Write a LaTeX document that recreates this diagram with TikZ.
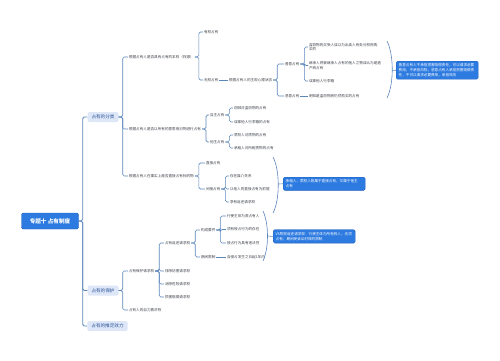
\documentclass[tikz,border=0pt]{standalone}
\usepackage{fontspec}
\setmainfont{Noto Sans CJK SC}
\definecolor{linec}{HTML}{5A86BA}
\definecolor{txtc}{HTML}{3C4048}
\definecolor{lonefill}{HTML}{DDE7F8}
\definecolor{lonetxt}{HTML}{2E5598}
\definecolor{rootc}{HTML}{2D7BE0}
\definecolor{rootb}{HTML}{1E5FBF}
\tikzset{
  conn/.style={draw=linec, line width=0.6pt, rounded corners=1.6pt},
  leaf/.style={anchor=west, inner sep=0.8pt, text=txtc, font=\fontsize{3.6}{4.6}\selectfont, align=left},
  lone/.style={fill=lonefill, rounded corners=1.5pt, text=lonetxt, font=\fontsize{4.6}{5.6}\selectfont, minimum height=10pt, inner xsep=4pt, inner ysep=0pt},
  rootbox/.style={fill=rootc, draw=rootb, line width=0.4pt, rounded corners=1.5pt, text=white, font=\fontsize{5.6}{6.6}\selectfont\bfseries, minimum width=57pt, minimum height=16pt},
  callout/.style={fill=rootc, draw=rootb, line width=0.4pt, rounded corners=1.5pt, text=white, font=\fontsize{3.6}{4.8}\selectfont, align=left, anchor=north west, inner sep=2.5pt, text width=77pt}
}
\begin{document}
\begin{tikzpicture}[x=1pt,y=-1pt]
\useasboundingbox (0,0) rectangle (500,360);
% root and level 1
\node[rootbox] (root) at (50,221) {专题十 占有制度};
\node[lone] (la) at (103,117) {占有的分类};
\node[lone] (lb) at (103,290.5) {占有的保护};
\node[lone] (lc) at (107.5,326) {占有的推定效力};
\draw[conn, line width=0.8pt] (root.east) -- ++(4,0) |- (la.west);
\draw[conn, line width=0.8pt] (root.east) -- ++(4,0) |- (lb.west);
\draw[conn, line width=0.8pt] (root.east) -- ++(4,0) |- (lc.west);

% ---- classification
\node[leaf] (a) at (128,57) {根据占有人是否具有占有的本权（权源）};
\node[leaf] (b) at (128,129) {根据占有人是否以所有的意思而对物进行占有};
\node[leaf] (c) at (128,176) {根据占有人在事实上是否直接占有标的物};
\foreach \n in {a,b,c} \draw[conn] (la.east) -- ++(4,0) |- (\n.west);

\node[leaf] (a1) at (203,32) {有权占有};
\node[leaf] (a2) at (203,80) {无权占有};
\foreach \n in {a1,a2} \draw[conn] (a.east) -- ++(4,0) |- (\n.west);
\node[leaf] (a2s) at (228,80) {根据占有人的主观心理状态};
\draw[conn] (a2.east) -- (a2s.west);
\node[leaf] (sy) at (284,64) {善意占有};
\node[leaf] (ey) at (284,96) {恶意占有};
\foreach \n in {sy,ey} \draw[conn] (a2s.east) -- ++(4,0) |- (\n.west);
\node[leaf] (g1) at (308,47) {盗窃物的买受人误以为出卖人有处分权而购\\买的};
\node[leaf] (g2) at (308,65.5) {继承人将被继承人占有的他人之物误认为是遗\\产而占有};
\node[leaf] (g3) at (308,81) {误拿他人行李箱};
\foreach \n in {g1,g2,g3} \draw[conn] (sy.east) -- ++(4,0) |- (\n.west);
\node[leaf] (h1) at (308,96) {明知是盗窃物而仍然购买的占有};
\draw[conn] (ey.east) -- (h1.west);
\draw[conn] (387,41) .. controls (394,55) and (394,84) .. (387,98);
\coordinate (p1) at (392.5,70.5);
\node[callout] (co1) at (396,61) {善意占有人不承担损害赔偿责任，可以请求必要\\费用，不承担风险；恶意占有人承担损害赔偿责\\任，不可以请求必要费用，承担风险};
\draw[conn] (p1) -- (co1.west);

\node[leaf] (b1) at (209,115) {自主占有};
\node[leaf] (b2) at (209,142) {他主占有};
\foreach \n in {b1,b2} \draw[conn] (b.east) -- ++(4,0) |- (\n.west);
\node[leaf] (b1a) at (233,108) {窃贼对盗窃物的占有};
\node[leaf] (b1b) at (233,122) {误拿他人行李箱的占有};
\foreach \n in {b1a,b1b} \draw[conn] (b1.east) -- ++(4,0) |- (\n.west);
\node[leaf] (b2a) at (233,135) {质权人对质物的占有};
\node[leaf] (b2b) at (233,148) {承租人对所租赁物的占有};
\foreach \n in {b2a,b2b} \draw[conn] (b2.east) -- ++(4,0) |- (\n.west);

\node[leaf] (c1) at (205,163) {直接占有};
\node[leaf] (c2) at (205,189) {间接占有};
\foreach \n in {c1,c2} \draw[conn] (c.east) -- ++(4,0) |- (\n.west);
\node[leaf] (c2a) at (229,176) {存在媒介关系};
\node[leaf] (c2b) at (229,189) {以他人的直接占有为前提};
\node[leaf] (c2c) at (229,202) {享有返还请求权};
\foreach \n in {c2a,c2b,c2c} \draw[conn] (c2.east) -- ++(4,0) |- (\n.west);
\draw[conn] (273,157) .. controls (280,170) and (280,200) .. (273,213);
\coordinate (p2) at (278.3,184);
\node[callout] (co2) at (283,177) {承租人、质权人既属于直接占有，又属于他主\\占有};
\draw[conn] (p2) -- (co2.west);

% ---- protection
\node[leaf] (d) at (128,271) {占有保护请求权};
\node[leaf] (e) at (128,310) {占有人的自力救济权};
\foreach \n in {d,e} \draw[conn] (lb.east) -- ++(4,0) |- (\n.west);
\node[leaf] (d1) at (164,243) {占有返还请求权};
\node[leaf] (d2) at (164,271) {排除妨害请求权};
\node[leaf] (d3) at (164,284) {消除危险请求权};
\node[leaf] (d4) at (164,297) {损害赔偿请求权};
\foreach \n in {d1,d2,d3,d4} \draw[conn] (d.east) -- ++(4,0) |- (\n.west);
\node[leaf] (d1a) at (200,230) {构成要件};
\node[leaf] (d1b) at (200,257) {期间限制};
\foreach \n in {d1a,d1b} \draw[conn] (d1.east) -- ++(4,0) |- (\n.west);
\node[leaf] (k1) at (226,216) {行使主体为原占有人};
\node[leaf] (k2) at (226,229.5) {须有侵占行为的存在};
\node[leaf] (k3) at (226,243) {侵占行为具有违法性};
\foreach \n in {k1,k2,k3} \draw[conn] (d1a.east) -- ++(4,0) |- (\n.west);
\node[leaf] (k4) at (226,257) {自侵占发生之日起1年内};
\draw[conn] (d1b.east) -- (k4.west);
\draw[conn] (263,211) .. controls (269,224) and (269,248) .. (263,261);
\coordinate (p3) at (267.5,236);
\node[callout] (co3) at (273,229.5) {VS物权返还请求权：行使主体为所有权人；无须\\占有；期间受诉讼时效的限制};
\draw[conn] (p3) -- (co3.west);
\end{tikzpicture}
\end{document}
